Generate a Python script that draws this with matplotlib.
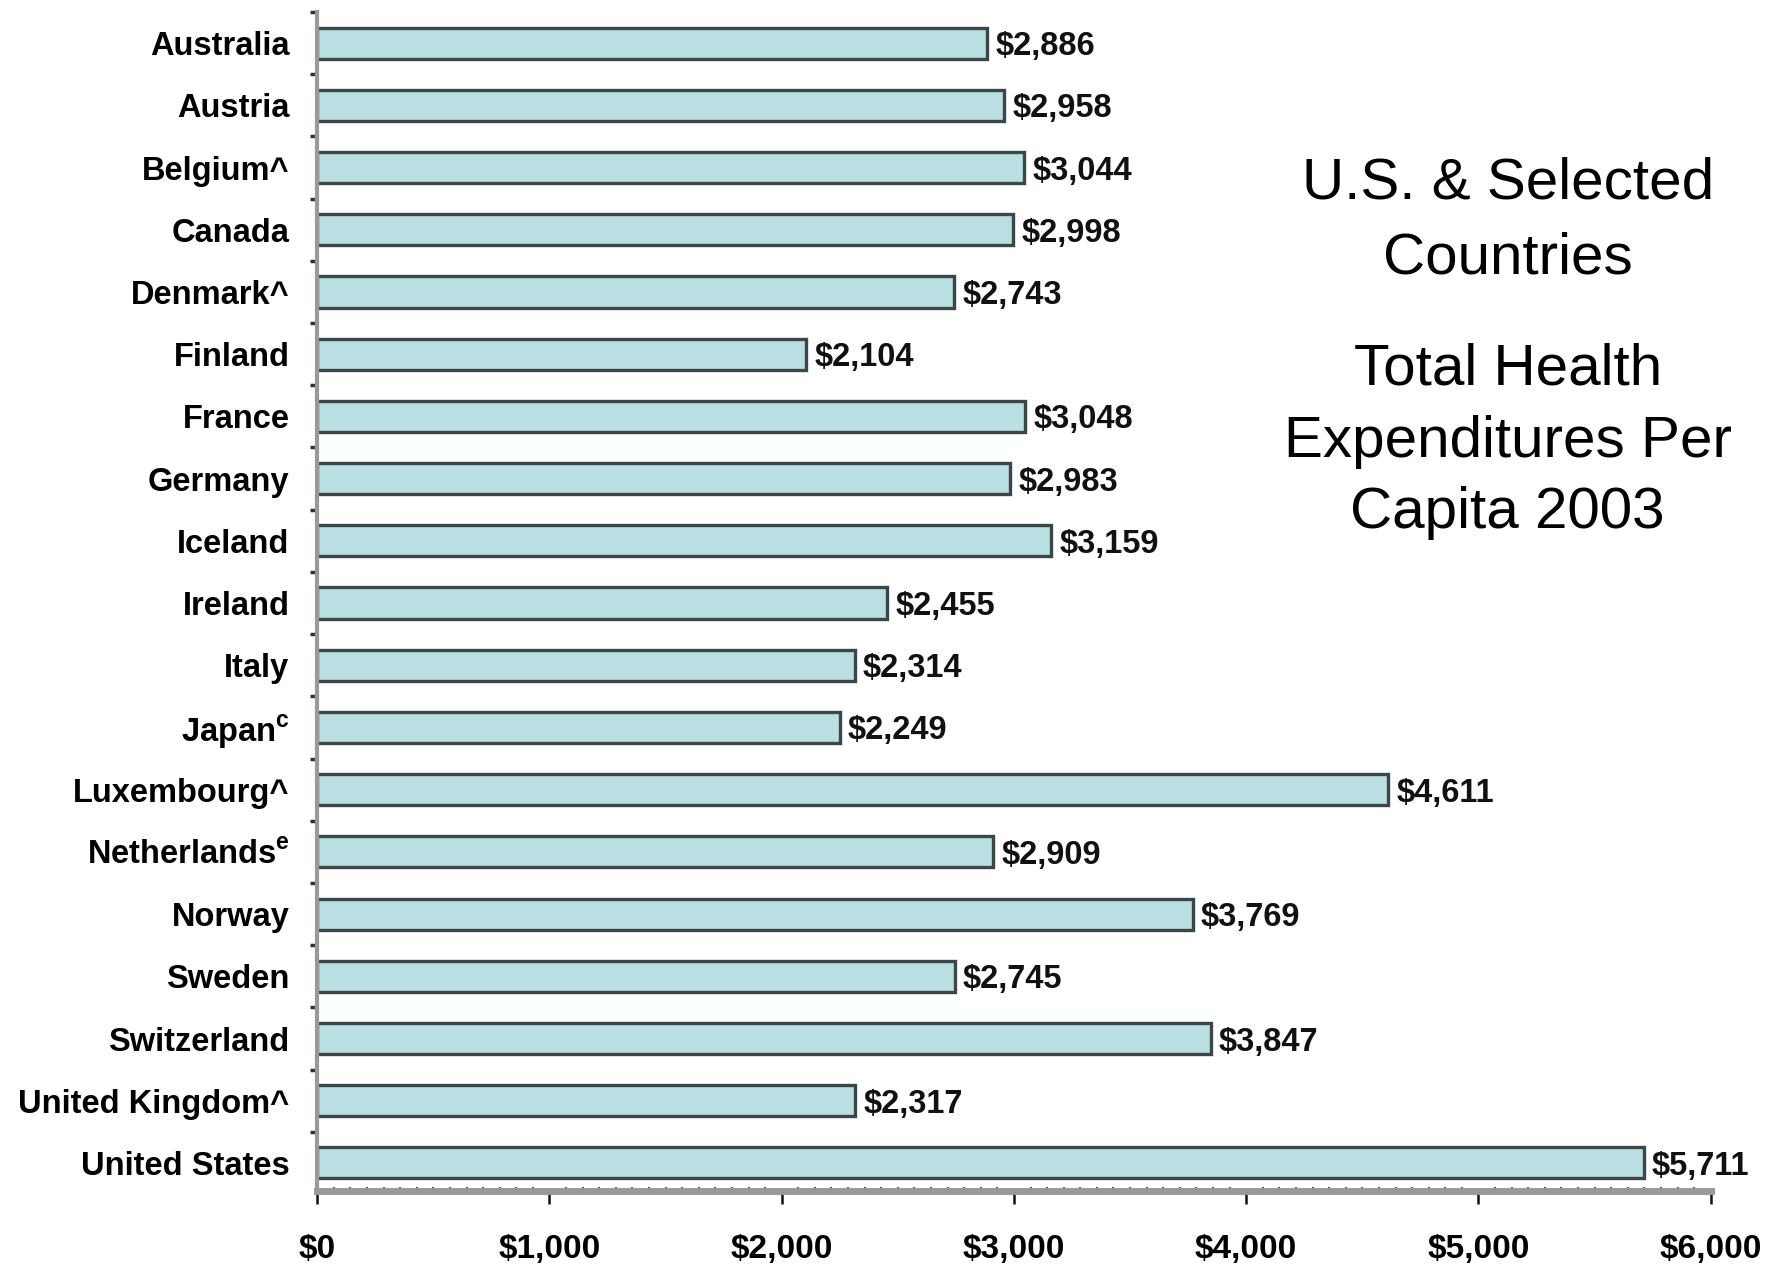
import matplotlib
matplotlib.use("Agg")
import matplotlib.pyplot as plt
from matplotlib.ticker import FuncFormatter, MultipleLocator, FixedLocator
import numpy as np

plt.rcParams['font.family'] = ['Liberation Sans', 'DejaVu Sans']
plt.rcParams['mathtext.fontset'] = 'custom'
plt.rcParams['mathtext.rm'] = 'Liberation Sans:bold'
plt.rcParams['mathtext.bf'] = 'Liberation Sans:bold'

countries = ["Australia", "Austria", "Belgium^", "Canada", "Denmark^", "Finland",
             "France", "Germany", "Iceland", "Ireland", "Italy", "Japan$^{\\mathbf{c}}$",
             "Luxembourg^", "Netherlands$^{\\mathbf{e}}$", "Norway", "Sweden", "Switzerland",
             "United Kingdom^", "United States"]
spending = [2886, 2958, 3044, 2998, 2743, 2104, 3048, 2983, 3159, 2455, 2314, 2249,
            4611, 2909, 3769, 2745, 3847, 2317, 5711]
xticks = [0, 1000, 2000, 3000, 4000, 5000, 6000]

fig = plt.figure(figsize=(17.82, 12.64), dpi=100)
ax = fig.add_axes([0.178, 0.0578, 0.782, 0.9327])

y = np.arange(len(countries))
bars = ax.barh(y, spending, height=0.5, color='#b9dfe2', edgecolor='#3c4646', linewidth=2.4)
for yi, v in zip(y, spending):
    ax.annotate(f"${v:,}", xy=(v, yi), xytext=(6, 0), textcoords='offset points',
                ha='left', va='center_baseline', fontsize=23.5, fontweight='bold',
                color='#111111')

ax.set_xlim(0, 6000)
ax.set_ylim(18.45, -0.5)
ax.set_yticks(y)
ax.set_yticklabels(countries, fontsize=23.5, fontweight='bold')
for lab in ax.get_yticklabels():
    lab.set_verticalalignment('center_baseline')
ax.yaxis.set_minor_locator(FixedLocator(np.arange(-0.5, 18.6, 1.0)))
ax.tick_params(axis='y', which='major', length=0, pad=20)
ax.tick_params(axis='y', which='minor', length=5, width=2.5, color='#333333', direction='out')

ax.set_xticks(xticks)
ax.xaxis.set_major_formatter(FuncFormatter(lambda v, p: f"${int(v):,}"))
ax.xaxis.set_minor_locator(MultipleLocator(1000 / 14))
ax.tick_params(axis='x', which='major', length=9, width=1.8, color='#111111', direction='out',
               labelsize=24, pad=22)
ax.tick_params(axis='x', which='minor', length=3, width=1.5, color='#555555', direction='in')
for lab in ax.get_xticklabels():
    lab.set_fontweight('bold')

for s in ['top', 'right']:
    ax.spines[s].set_visible(False)
ax.spines['left'].set_color('#999999')
ax.spines['left'].set_linewidth(3)
ax.spines['bottom'].set_color('#999999')
ax.spines['bottom'].set_linewidth(5)

fig.text(0.846, 0.8255, "U.S. & Selected\nCountries", ha='center', va='center',
         fontsize=42, linespacing=1.5)
fig.text(0.846, 0.6507, "Total Health\nExpenditures Per\nCapita 2003", ha='center', va='center',
         fontsize=42, linespacing=1.42)

fig.savefig("out.png", dpi=100)
